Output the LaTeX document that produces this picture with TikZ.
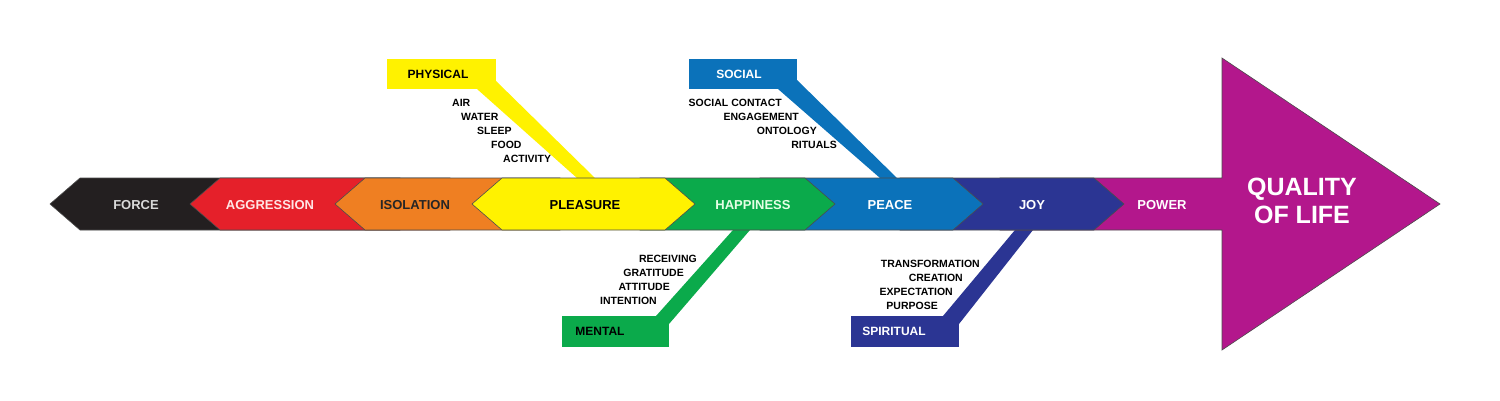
\documentclass[tikz,border=0pt]{standalone}
\usepackage{fontspec}
\setmainfont{Liberation Sans}
\definecolor{cblack}{HTML}{231F20}
\definecolor{cred}{HTML}{E5202A}
\definecolor{corange}{HTML}{EF7F22}
\definecolor{cyellow}{HTML}{FFF200}
\definecolor{cgreen}{HTML}{0BAA4B}
\definecolor{cblue}{HTML}{0B72BA}
\definecolor{cnavy}{HTML}{2B3593}
\definecolor{cmag}{HTML}{B3178C}
\begin{document}
\begin{tikzpicture}[x=1pt,y=-1pt,
  seg/.style={draw=black!70,line width=0.6pt},
  blab/.style={font=\bfseries\fontsize{13}{13}\selectfont},
  item/.style={font=\bfseries\fontsize{10.5}{10.5}\selectfont,inner sep=0pt},
  cbox/.style={font=\bfseries\fontsize{12}{12}\selectfont}]
\useasboundingbox (0,0) rectangle (1500,400);
\fill[white] (0,0) rectangle (1500,400);
% callout arms
\fill[cyellow] (477,89) -- (577,178) -- (595,178) -- (495,80) -- cycle;
\fill[cblue] (778,89) -- (880,178) -- (897,178) -- (797,80) -- cycle;
\fill[cgreen] (656,316) -- (733,230) -- (750,230) -- (669,324) -- cycle;
\fill[cnavy] (943,316) -- (1015,230) -- (1033,230) -- (959,324) -- cycle;
% boxes
\fill[cyellow] (387,59) rectangle (496,89);
\node[cbox,text=black] (phys) at (438,74) {PHYSICAL};
\fill[cblue] (689,59) rectangle (797,89);
\node[cbox,text=white] (soc) at (739,74) {SOCIAL};
\fill[cgreen] (562,316) rectangle (669,347);
\node[cbox,text=black] (ment) at (600,331) {MENTAL};
\fill[cnavy] (851,316) rectangle (959,347);
\node[cbox,text=white] (spir) at (894,331) {SPIRITUAL};
% band: left-pointing pieces
\filldraw[seg,fill=cblack] (50,204) -- (80,178) -- (400,178) -- (400,230) -- (80,230) -- cycle;
\filldraw[seg,fill=cred] (190,204) -- (220,178) -- (450,178) -- (450,230) -- (220,230) -- cycle;
\filldraw[seg,fill=corange] (335,204) -- (365,178) -- (560,178) -- (560,230) -- (365,230) -- cycle;
% right-pointing pieces
\filldraw[seg,fill=cmag] (1000,178) -- (1222,178) -- (1222,58) -- (1440,204) -- (1222,350) -- (1222,230) -- (1000,230) -- cycle;
\filldraw[seg,fill=cnavy] (900,178) -- (1094,178) -- (1124,204) -- (1094,230) -- (900,230) -- cycle;
\fill[cmag] (1215,180) rectangle (1226,228);
\filldraw[seg,fill=cblue] (760,178) -- (953,178) -- (983,204) -- (953,230) -- (760,230) -- cycle;
\filldraw[seg,fill=cgreen] (640,178) -- (805,178) -- (835,204) -- (805,230) -- (640,230) -- cycle;
\filldraw[seg,fill=cyellow] (472,204) -- (502,178) -- (665,178) -- (695,204) -- (665,230) -- (502,230) -- cycle;
% band labels
\node[blab,text=white!85!black] (force) at (136,205) {FORCE};
\node[blab,text=white!90!red] (aggr) at (270,205) {AGGRESSION};
\node[blab,text=black!85] (iso) at (415,205) {ISOLATION};
\node[blab,text=black] (plea) at (585,205) {PLEASURE};
\node[blab,text=white!90!green] (happ) at (753,205) {HAPPINESS};
\node[blab,text=white] (peace) at (890,205) {PEACE};
\node[blab,text=white] (joy) at (1032,205) {JOY};
\node[blab,text=white] (power) at (1162,205) {POWER};
\node[font=\bfseries\fontsize{25}{28}\selectfont,text=white,align=center] (qol) at (1302,201) {QUALITY\\OF LIFE};
% item lists
\node[item,anchor=west] (i1) at (452,103) {AIR};
\node[item,anchor=west] (i2) at (461,117) {WATER};
\node[item,anchor=west] (i3) at (477,131) {SLEEP};
\node[item,anchor=west] (i4) at (491,145) {FOOD};
\node[item,anchor=west] (i5) at (503,159) {ACTIVITY};
\node[item,anchor=east] (s1) at (782,103) {SOCIAL CONTACT};
\node[item,anchor=east] (s2) at (799,117) {ENGAGEMENT};
\node[item,anchor=east] (s3) at (817,131) {ONTOLOGY};
\node[item,anchor=east] (s4) at (837,145) {RITUALS};
\node[item,anchor=east] (m1) at (697,259) {RECEIVING};
\node[item,anchor=east] (m2) at (684,273) {GRATITUDE};
\node[item,anchor=east] (m3) at (670,287) {ATTITUDE};
\node[item,anchor=east] (m4) at (657,301) {INTENTION};
\node[item,anchor=east] (p1) at (980,264) {TRANSFORMATION};
\node[item,anchor=east] (p2) at (963,278) {CREATION};
\node[item,anchor=east] (p3) at (953,292) {EXPECTATION};
\node[item,anchor=east] (p4) at (938,306) {PURPOSE};
\end{tikzpicture}
\end{document}
